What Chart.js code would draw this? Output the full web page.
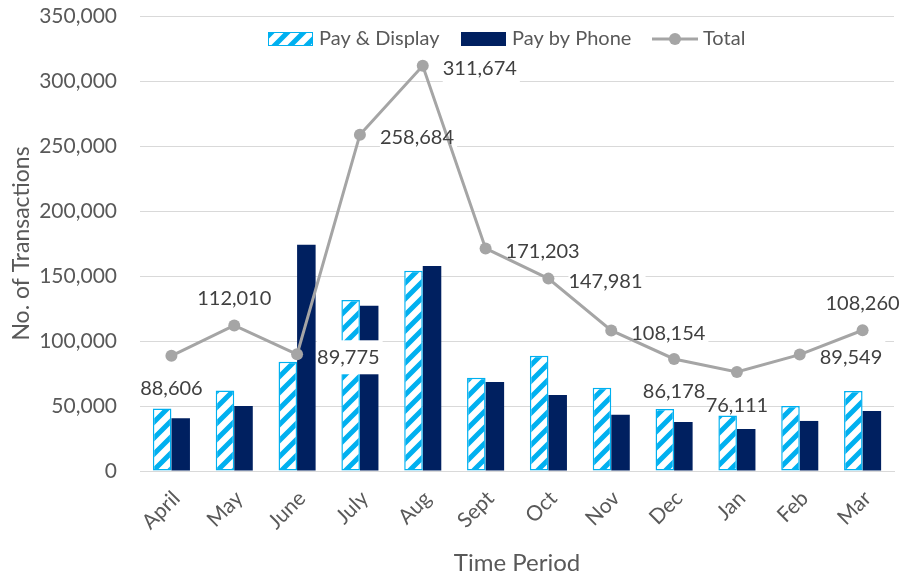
<!DOCTYPE html>
<html>
<head>
<meta charset="utf-8">
<script src="https://cdn.jsdelivr.net/npm/chart.js@4.4.1/dist/chart.umd.min.js"></script>
<style>
  body { margin: 0; background: #fff; }
  #chart { display: block; }
</style>
</head>
<body>
<canvas id="chart" width="900" height="576"></canvas>
<script>
// chart values
const months = ['April', 'May', 'June', 'July', 'Aug', 'Sept', 'Oct', 'Nov', 'Dec', 'Jan', 'Feb', 'Mar'];
const payDisplay = [48000, 62000, 84000, 131600, 154000, 71800, 88700, 64100, 47700, 42600, 50000, 61500];
const payPhone = [40600, 50000, 174000, 127100, 157700, 68500, 58500, 43300, 37700, 32300, 38500, 46100];
const totals = [88606, 112010, 89775, 258684, 311674, 171203, 147981, 108154, 86178, 76111, 89549, 108260];
const yTicks = [0, 50000, 100000, 150000, 200000, 250000, 300000, 350000];

const FONT = 'Lato';
const TXT = '#595959';

function makeHatch() {
    const c = document.createElement('canvas');
    c.width = 16; c.height = 16;
    const g = c.getContext('2d');
    g.fillStyle = '#fff';
    g.fillRect(0, 0, 16, 16);
    g.strokeStyle = '#00B0F0';
    g.lineWidth = 5;
    g.beginPath();
    g.moveTo(-4, 20); g.lineTo(20, -4);
    g.moveTo(-4, 4); g.lineTo(4, -4);
    g.moveTo(12, 20); g.lineTo(20, 12);
    g.stroke();
    return g.createPattern(c, 'repeat');
}

const ctx = document.getElementById('chart').getContext('2d');
const hatch = makeHatch();

// data labels on the Total line; the white boxes of the right-hand labels sit over the bars, under the line
const totalLabels = {
    id: 'totalLabels',
    place: ['below', 'above', 'right', 'right', 'right', 'right', 'right', 'right', 'below', 'below', 'right', 'above'],
    spots(chart) {
        const meta = chart.getDatasetMeta(0);
        const c = chart.ctx;
        c.font = '20px ' + FONT;
        return meta.data.map((pt, i) => {
            const text = totals[i].toLocaleString('en-US');
            const w = c.measureText(text).width;
            let x = pt.x - w / 2, y = pt.y;
            const p = this.place[i];
            if (p === 'right') { x = pt.x + 20; y = pt.y + 3; }
            else if (p === 'above') { y = pt.y - 27; }
            else { y = pt.y + 33; }
            return { text, x, y, w, box: p === 'right' };
        });
    },
    beforeDatasetDraw(chart, args) {
        if (args.index !== 0) return;
        const c = chart.ctx;
        c.save();
        c.fillStyle = '#fff';
        this.spots(chart).forEach(s => {
            if (s.box) c.fillRect(s.x, s.y - 17, s.w + 3, 34);
        });
        c.restore();
    },
    afterDatasetsDraw(chart) {
        const c = chart.ctx;
        c.save();
        c.font = '20px ' + FONT;
        c.fillStyle = '#404040';
        c.textBaseline = 'middle';
        c.textAlign = 'left';
        this.spots(chart).forEach(s => c.fillText(s.text, s.x, s.y));
        c.restore();
    }
};

// legend drawn inside the plot, Excel style
const topLegend = {
    id: 'topLegend',
    starts: [268, 461, 652],
    afterDraw(chart) {
        const c = chart.ctx;
        const sets = chart.data.datasets;
        const items = [sets[1], sets[2], sets[0]];
        const y = 39;
        c.save();
        c.font = '20px ' + FONT;
        c.textBaseline = 'middle';
        items.forEach((ds, i) => {
            let x = this.starts[i];
            if (ds.type === 'line') {
                c.strokeStyle = ds.borderColor;
                c.lineWidth = 3;
                c.beginPath();
                c.moveTo(x, y); c.lineTo(x + 46, y);
                c.stroke();
                c.fillStyle = ds.borderColor;
                c.beginPath();
                c.arc(x + 23, y, 6, 0, Math.PI * 2);
                c.fill();
            } else {
                c.fillStyle = ds.backgroundColor;
                c.fillRect(x, y - 7, 45, 14);
                if (ds.borderWidth) {
                    c.strokeStyle = ds.borderColor;
                    c.lineWidth = 1;
                    c.strokeRect(x + 0.5, y - 6.5, 44, 13);
                }
            }
            c.fillStyle = TXT;
            c.fillText(ds.label, x + 51, y);
        });
        c.restore();
    }
};

new Chart(ctx, {
    type: 'bar',
    data: {
        labels: months,
        datasets: [
            {
                type: 'line',
                label: 'Total',
                data: totals,
                borderColor: '#A5A5A5',
                backgroundColor: '#A5A5A5',
                borderWidth: 3,
                pointRadius: 6,
                pointBorderWidth: 0,
                pointBackgroundColor: '#A5A5A5',
                tension: 0,
                order: 0
            },
            {
                label: 'Pay & Display',
                data: payDisplay,
                backgroundColor: hatch,
                borderColor: '#00B0F0',
                borderWidth: 1.5,
                borderSkipped: false,
                categoryPercentage: 0.59,
                barPercentage: 1,
                order: 1
            },
            {
                label: 'Pay by Phone',
                data: payPhone,
                backgroundColor: '#002060',
                categoryPercentage: 0.59,
                barPercentage: 1,
                order: 1
            }
        ]
    },
    options: {
        responsive: false,
        animation: false,
        devicePixelRatio: 1,
        layout: { padding: { top: 16, right: 4, left: 0, bottom: 0 } },
        plugins: {
            legend: { display: false },
            tooltip: { enabled: false }
        },
        scales: {
            x: {
                grid: { display: false },
                border: { color: '#D9D9D9' },
                ticks: {
                    color: TXT,
                    font: { family: FONT, size: 21 },
                    minRotation: 45,
                    maxRotation: 45,
                    padding: 7,
                    labelOffset: 5
                },
                title: {
                    display: true,
                    text: 'Time Period',
                    color: TXT,
                    font: { family: FONT, size: 24, lineHeight: 1.1 },
                    padding: { top: 0, bottom: 0 }
                },
                afterFit: s => { s.height = 105; }
            },
            y: {
                min: 0,
                max: 350000,
                afterBuildTicks: s => { s.ticks = yTicks.map(v => ({ value: v })); },
                grid: { color: '#D9D9D9', drawTicks: true, tickLength: 23, tickColor: 'rgba(0,0,0,0)' },
                border: { display: false },
                ticks: {
                    color: TXT,
                    font: { family: FONT, size: 21 },
                    padding: 0,
                    callback: v => v.toLocaleString('en-US')
                },
                title: {
                    display: true,
                    text: 'No. of Transactions',
                    color: TXT,
                    font: { family: FONT, size: 23 },
                    padding: { top: 8, bottom: 0 }
                },
                afterFit: s => { s.width = 140; }
            }
        }
    },
    plugins: [totalLabels, topLegend]
});
</script>
</body>
</html>
